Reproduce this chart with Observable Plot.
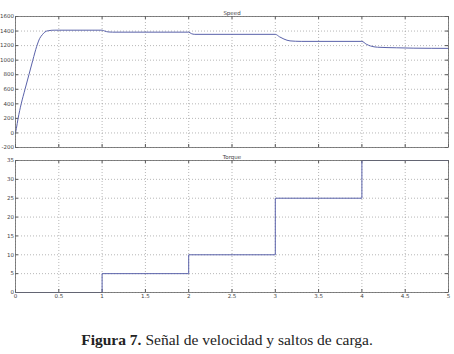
<!DOCTYPE html>
<html>
<head>
<meta charset="utf-8">
<script src="https://cdn.jsdelivr.net/npm/d3@7"></script>
<script src="https://cdn.jsdelivr.net/npm/@observablehq/plot@0.6"></script>
<style>
  html, body { margin: 0; padding: 0; background: #fff; }
  #wrap { position: relative; width: 454px; height: 354px; overflow: hidden; }
  #p1, #p2 { position: absolute; left: 0; }
  #p1 { top: 0; }
  #p2 { top: 150px; }
  #cap { position: absolute; left: 0; width: 454px; top: 331px; text-align: center;
         font-family: "Liberation Serif", "DejaVu Serif", serif; font-size: 15.5px; color: #222; }
</style>
</head>
<body>
<div id="wrap">
  <div id="p1"></div>
  <div id="p2"></div>
  <div id="cap"><b>Figura 7.</b> Señal de velocidad y saltos de carga.</div>
</div>
<script>
// ---- data ----
const speedTime  = [0, 0.01, 0.03, 0.066, 0.11, 0.155, 0.2, 0.245, 0.28, 0.31, 0.34, 0.38, 0.45, 1.0, 1.03, 1.07, 1.12, 2.0, 2.03, 2.07, 3.0, 3.05, 3.1, 3.17, 3.3, 4.0, 4.05, 4.1, 4.18, 4.4, 4.6, 5.0];
const speedValue = [0, 60, 200, 400, 600, 800, 1000, 1190, 1300, 1350, 1388, 1405, 1412, 1412, 1400, 1388, 1385, 1385, 1365, 1355, 1355, 1320, 1290, 1265, 1258, 1258, 1220, 1195, 1178, 1170, 1165, 1162];
const torqueTime  = [0, 1, 2, 3, 4, 5];
const torqueValue = [0, 5, 10, 25, 35, 35];
const xTicks = [0, 0.5, 1, 1.5, 2, 2.5, 3, 3.5, 4, 4.5, 5];
const speedTicks = [-200, 0, 200, 400, 600, 800, 1000, 1200, 1400, 1600];
const torqueTicks = [0, 5, 10, 15, 20, 25, 30, 35];
const titles = ["Speed", "Torque"];

const speed = speedTime.map((t, i) => ({t, v: speedValue[i]}));
const torque = torqueTime.map((t, i) => ({t, v: torqueValue[i]}));

const lineColor = "#5a62aa";
const gridStyle = {stroke: "#999", strokeOpacity: 0.7, strokeDasharray: "1,2"};
const fs = 5.5;
const W = 454;
const fmt = d => String(d).replace("\u2212", "-");

function panel(opts) {
  const {data, yDomain, yTicks, height, mt, mb, title, showX, curve} = opts;
  const ml = 15, mr = 6;
  const fw = W - ml - mr, fh = height - mt - mb;
  const marks = [
    Plot.gridX(xTicks, gridStyle),
    Plot.gridY(yTicks, gridStyle),
    // inward ticks
    Plot.tickX(xTicks, {x: d => d, insetTop: fh - 3, stroke: "#555"}),
    Plot.tickX(xTicks, {x: d => d, insetBottom: fh - 3, stroke: "#555"}),
    Plot.tickY(yTicks, {y: d => d, insetRight: fw - 3, stroke: "#555"}),
    Plot.tickY(yTicks, {y: d => d, insetLeft: fw - 3, stroke: "#555"}),
    Plot.axisY(yTicks, {tickSize: 0, tickPadding: 1.5, fontSize: fs, fill: "#444", label: null, tickFormat: fmt}),
    Plot.line(data, {x: "t", y: "v", stroke: lineColor, strokeWidth: 1, curve}),
    Plot.frame({stroke: "#666", strokeWidth: 0.8}),
    Plot.text([title], {frameAnchor: "top", dy: -5, fontSize: fs, fill: "#444"})
  ];
  if (showX) marks.push(Plot.axisX(xTicks, {tickSize: 0, tickPadding: 2, fontSize: fs, fill: "#444", label: null, tickFormat: fmt}));
  return Plot.plot({
    width: W, height,
    marginLeft: ml, marginRight: mr, marginTop: mt, marginBottom: mb,
    style: {background: "#fff", fontFamily: "DejaVu Sans, sans-serif"},
    x: {domain: [0, 5], axis: showX ? undefined : null},
    y: {domain: yDomain},
    marks
  });
}

document.getElementById("p1").append(panel({
  data: speed, yDomain: [-200, 1600], yTicks: speedTicks,
  height: 150, mt: 16, mb: 3, title: titles[0], showX: false, curve: "monotone-x"
}));
document.getElementById("p2").append(panel({
  data: torque, yDomain: [0, 35], yTicks: torqueTicks,
  height: 160, mt: 10, mb: 18, title: titles[1], showX: true, curve: "step-after"
}));
</script>
</body>
</html>
